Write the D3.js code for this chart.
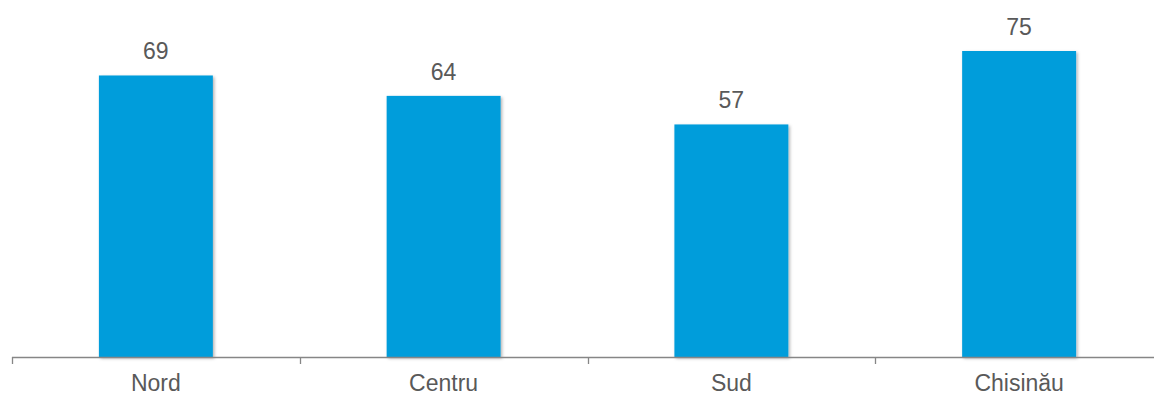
<!DOCTYPE html>
<html>
<head>
<meta charset="utf-8">
<script src="https://cdn.jsdelivr.net/npm/d3@7"></script>
<style>
  html, body { margin: 0; padding: 0; background: #fff; }
  svg { display: block; font-family: "Liberation Sans", Arial, sans-serif; }
</style>
</head>
<body>
<script>
// Regional values
const categories = ["Nord", "Centru", "Sud", "Chisinău"];
const values = [69, 64, 57, 75];

const width = 1154, height = 397;
const plot = { left: 12, right: 1163, top: 0, bottom: 357 };

const svg = d3.select("body").append("svg")
  .attr("width", width)
  .attr("height", height);

// soft drop shadow under the bars
const defs = svg.append("defs");
const f = defs.append("filter").attr("id", "shadow")
  .attr("x", "-10%").attr("y", "-10%").attr("width", "130%").attr("height", "130%");
f.append("feDropShadow")
  .attr("dx", 1.5).attr("dy", 1.5).attr("stdDeviation", 1.5)
  .attr("flood-color", "#000").attr("flood-opacity", 0.3);

const x = d3.scaleBand()
  .domain(categories)
  .range([plot.left, plot.right])
  .paddingInner(0.604)
  .paddingOuter(0.302);

const y = d3.scaleLinear()
  .domain([0, 87.5])
  .range([plot.bottom, plot.top]);

// bars
svg.append("g").selectAll("rect")
  .data(categories)
  .join("rect")
  .attr("x", d => x(d))
  .attr("y", (d, i) => y(values[i]))
  .attr("width", x.bandwidth())
  .attr("height", (d, i) => y(0) - y(values[i]))
  .attr("fill", "#009DDB")
  .attr("filter", "url(#shadow)");

// value labels
svg.append("g").selectAll("text")
  .data(categories)
  .join("text")
  .attr("x", d => x(d) + x.bandwidth() / 2)
  .attr("y", (d, i) => y(values[i]) - 16)
  .attr("text-anchor", "middle")
  .attr("font-size", 23)
  .attr("fill", "#595959")
  .text((d, i) => values[i]);

// category axis with ticks at band boundaries
const axisG = svg.append("g");
const boundaries = d3.range(categories.length + 1).map(i => plot.left + i * (plot.right - plot.left) / categories.length);

axisG.append("line")
  .attr("x1", plot.left).attr("x2", plot.right)
  .attr("y1", plot.bottom + 0.5).attr("y2", plot.bottom + 0.5)
  .attr("stroke", "#868686").attr("stroke-width", 1.3);

axisG.selectAll("line.tick")
  .data(boundaries)
  .join("line")
  .attr("class", "tick")
  .attr("x1", d => Math.round(d) + 0.5).attr("x2", d => Math.round(d) + 0.5)
  .attr("y1", plot.bottom).attr("y2", plot.bottom + 7)
  .attr("stroke", "#868686").attr("stroke-width", 1.3);

axisG.selectAll("text")
  .data(categories)
  .join("text")
  .attr("x", d => x(d) + x.bandwidth() / 2)
  .attr("y", 391)
  .attr("text-anchor", "middle")
  .attr("font-size", 23)
  .attr("fill", "#595959")
  .text(d => d);
</script>
</body>
</html>
